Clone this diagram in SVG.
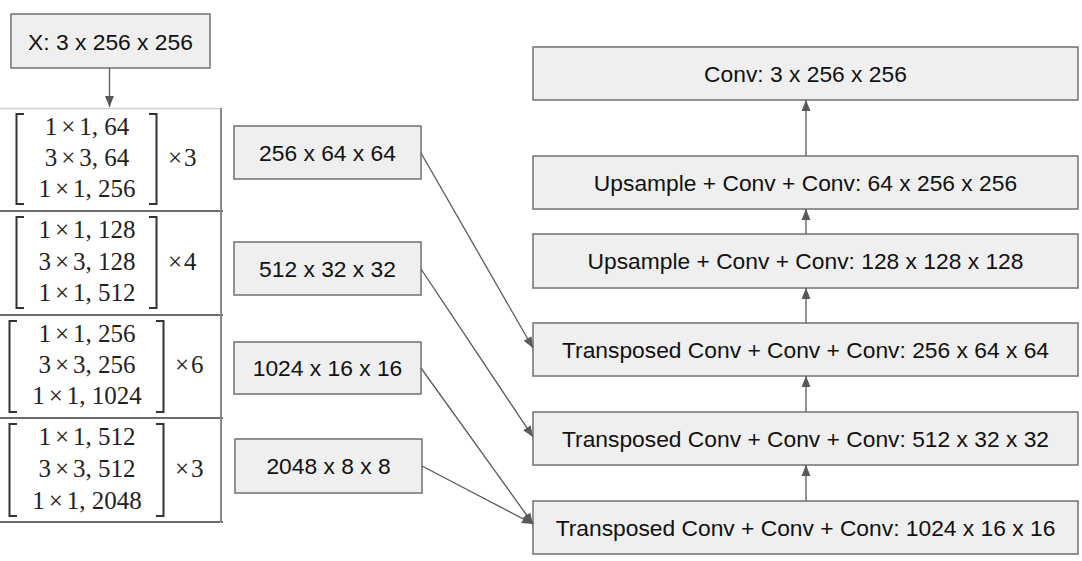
<svg xmlns="http://www.w3.org/2000/svg" width="1082" height="561" viewBox="0 0 1082 561">
<style>
.box{fill:#efefef;stroke:#707070;stroke-width:1.5}
.lbl{font-family:"Liberation Sans",Arial,sans-serif;font-size:22.8px;fill:#111;text-anchor:middle}
.tx{font-family:"Liberation Serif","Times New Roman",serif;font-size:25px;fill:#222;text-anchor:middle}
.mul{font-family:"Liberation Serif","Times New Roman",serif;font-size:25px;fill:#222}
.br{fill:none;stroke:#333;stroke-width:2}
.conn{stroke:#595959;stroke-width:1.3;fill:none;marker-end:url(#ah)}
.rule{stroke:#6a6a6a;stroke-width:2}
</style>
<defs>
<marker id="ah" markerUnits="userSpaceOnUse" markerWidth="12" markerHeight="12" viewBox="0 0 12 12" refX="11" refY="6" orient="auto">
<path d="M0,1.5 L11,6 L0,10.5 Z" fill="#595959"/>
</marker>
</defs>
<rect width="1082" height="561" fill="#fff"/>

<g id="input">
<rect class="box" x="11" y="14" width="199" height="54"/>
<text class="lbl" x="110.5" y="49.5">X: 3 x 256 x 256</text>
</g>

<g id="resnet-table">
<line x1="0" y1="108.5" x2="221" y2="108.5" stroke="#d0d0d0" stroke-width="1.5"/>
<line class="rule" x1="0" y1="211" x2="223" y2="211"/>
<line class="rule" x1="0" y1="315" x2="223" y2="315"/>
<line class="rule" x1="0" y1="418" x2="223" y2="418"/>
<line class="rule" x1="0" y1="522" x2="223" y2="522"/>
<line x1="221" y1="108" x2="221" y2="523" stroke="#8a8a8a" stroke-width="2"/>
</g>

<g id="stage1">
<path class="br" d="M24,114 H16.5 V204 H24"/>
<path class="br" d="M149,114 H156.5 V204 H149"/>
<text class="tx" x="87" y="135">1<tspan dx="4">×</tspan><tspan dx="4">1, 64</tspan></text>
<text class="tx" x="87" y="166">3<tspan dx="4">×</tspan><tspan dx="4">3, 64</tspan></text>
<text class="tx" x="87" y="197">1<tspan dx="4">×</tspan><tspan dx="4">1, 256</tspan></text>
<text class="mul" x="168" y="166">×<tspan dx="2">3</tspan></text>
</g>

<g id="stage2">
<path class="br" d="M24,217 H16.5 V308 H24"/>
<path class="br" d="M149,217 H156.5 V308 H149"/>
<text class="tx" x="87" y="238">1<tspan dx="4">×</tspan><tspan dx="4">1, 128</tspan></text>
<text class="tx" x="87" y="270">3<tspan dx="4">×</tspan><tspan dx="4">3, 128</tspan></text>
<text class="tx" x="87" y="301">1<tspan dx="4">×</tspan><tspan dx="4">1, 512</tspan></text>
<text class="mul" x="168" y="270">×<tspan dx="2">4</tspan></text>
</g>

<g id="stage3">
<path class="br" d="M17,321 H9.5 V412 H17"/>
<path class="br" d="M156,321 H163.5 V412 H156"/>
<text class="tx" x="87" y="342">1<tspan dx="4">×</tspan><tspan dx="4">1, 256</tspan></text>
<text class="tx" x="87" y="373">3<tspan dx="4">×</tspan><tspan dx="4">3, 256</tspan></text>
<text class="tx" x="87" y="404">1<tspan dx="4">×</tspan><tspan dx="4">1, 1024</tspan></text>
<text class="mul" x="175" y="373">×<tspan dx="2">6</tspan></text>
</g>

<g id="stage4">
<path class="br" d="M17,424 H9.5 V516 H17"/>
<path class="br" d="M156,424 H163.5 V516 H156"/>
<text class="tx" x="87" y="445">1<tspan dx="4">×</tspan><tspan dx="4">1, 512</tspan></text>
<text class="tx" x="87" y="477">3<tspan dx="4">×</tspan><tspan dx="4">3, 512</tspan></text>
<text class="tx" x="87" y="509">1<tspan dx="4">×</tspan><tspan dx="4">1, 2048</tspan></text>
<text class="mul" x="175" y="477">×<tspan dx="2">3</tspan></text>
</g>

<g id="feat1">
<rect class="box" x="234" y="126" width="187" height="53"/>
<text class="lbl" x="327.5" y="160.5">256 x 64 x 64</text>
</g>
<g id="feat2">
<rect class="box" x="234" y="242" width="187" height="53"/>
<text class="lbl" x="327.5" y="276.5">512 x 32 x 32</text>
</g>
<g id="feat3">
<rect class="box" x="234" y="342" width="187" height="52"/>
<text class="lbl" x="327.5" y="376">1024 x 16 x 16</text>
</g>
<g id="feat4">
<rect class="box" x="235" y="439" width="187" height="54"/>
<text class="lbl" x="328.5" y="474">2048 x 8 x 8</text>
</g>

<g id="out-conv">
<rect class="box" x="533" y="47" width="545" height="53"/>
<text class="lbl" x="805.5" y="81.5">Conv: 3 x 256 x 256</text>
</g>
<g id="up1">
<rect class="box" x="533" y="156" width="545" height="53"/>
<text class="lbl" x="805.5" y="190.5">Upsample + Conv + Conv: 64 x 256 x 256</text>
</g>
<g id="up2">
<rect class="box" x="533" y="234" width="545" height="54"/>
<text class="lbl" x="805.5" y="269">Upsample + Conv + Conv: 128 x 128 x 128</text>
</g>
<g id="tconv1">
<rect class="box" x="533" y="323" width="545" height="53"/>
<text class="lbl" x="805.5" y="357.5">Transposed Conv + Conv + Conv: 256 x 64 x 64</text>
</g>
<g id="tconv2">
<rect class="box" x="533" y="412" width="545" height="53"/>
<text class="lbl" x="805.5" y="446.5">Transposed Conv + Conv + Conv: 512 x 32 x 32</text>
</g>
<g id="tconv3">
<rect class="box" x="533" y="501" width="545" height="53"/>
<text class="lbl" x="805.5" y="535.5">Transposed Conv + Conv + Conv: 1024 x 16 x 16</text>
</g>

<g id="connectors">
<line class="conn" x1="109.5" y1="68" x2="109.5" y2="107"/>
<line class="conn" x1="421" y1="153" x2="533" y2="348"/>
<line class="conn" x1="421" y1="269" x2="533" y2="437"/>
<line class="conn" x1="421" y1="368" x2="533" y2="524"/>
<line class="conn" x1="422" y1="466" x2="533" y2="524"/>
<line class="conn" x1="806" y1="501" x2="806" y2="465"/>
<line class="conn" x1="806" y1="412" x2="806" y2="376"/>
<line class="conn" x1="806" y1="323" x2="806" y2="288"/>
<line class="conn" x1="806" y1="234" x2="806" y2="209"/>
<line class="conn" x1="806" y1="156" x2="806" y2="100"/>
</g>
</svg>
